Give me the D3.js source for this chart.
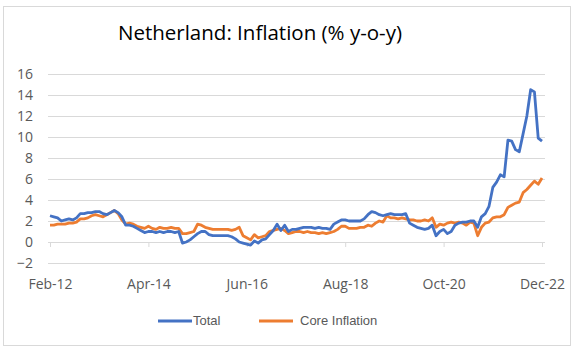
<!DOCTYPE html>
<html>
<head>
<meta charset="utf-8">
<script src="https://cdn.jsdelivr.net/npm/d3@7"></script>
<style>
  body { margin: 0; background: #fff; }
  svg { display: block; }
</style>
</head>
<body>
<div id="chart"></div>
<script>
// monthly values, Feb-12 .. Dec-22
const total = [
  2.5, 2.4, 2.3, 2.0, 2.1, 2.2, 2.1, 2.3, 2.7, 2.7, 2.8,            // 2012
  2.8, 2.9, 2.9, 2.7, 2.6, 2.8, 3.0, 2.8, 2.4, 1.6, 1.6, 1.5,       // 2013
  1.3, 1.1, 0.9, 1.0, 1.0, 0.9, 1.0, 0.9, 1.0, 1.0, 0.9, 1.0,       // 2014
  -0.1, 0.0, 0.2, 0.5, 0.8, 1.0, 1.0, 0.7, 0.6, 0.6, 0.6, 0.6,      // 2015
  0.6, 0.5, 0.3, 0.0, -0.1, -0.2, -0.3, 0.1, -0.1, 0.2, 0.3, 0.7,   // 2016
  1.1, 1.7, 1.1, 1.6, 1.0, 1.2, 1.2, 1.3, 1.4, 1.4, 1.4, 1.3,       // 2017
  1.4, 1.3, 1.3, 1.2, 1.7, 1.9, 2.1, 2.1, 2.0, 2.0, 2.0, 2.0,       // 2018
  2.2, 2.6, 2.9, 2.8, 2.6, 2.5, 2.6, 2.7, 2.6, 2.6, 2.6, 2.7,       // 2019
  1.8, 1.6, 1.4, 1.3, 1.2, 1.3, 1.6, 0.6, 1.0, 1.2, 0.8, 1.0,       // 2020
  1.6, 1.8, 1.9, 1.9, 2.0, 2.0, 1.4, 2.4, 2.7, 3.4, 5.2, 5.7,       // 2021
  6.4, 6.2, 9.7, 9.6, 8.8, 8.6, 10.3, 12.0, 14.5, 14.3, 9.9, 9.6    // 2022
];
const core = [
  1.6, 1.6, 1.7, 1.7, 1.7, 1.8, 1.8, 1.9, 2.2, 2.2, 2.3,
  2.5, 2.6, 2.5, 2.4, 2.6, 2.8, 3.0, 2.7, 2.1, 1.7, 1.8, 1.7,
  1.5, 1.4, 1.3, 1.5, 1.3, 1.2, 1.4, 1.3, 1.3, 1.4, 1.3, 1.3,
  0.8, 0.8, 0.9, 1.0, 1.7, 1.6, 1.4, 1.3, 1.2, 1.2, 1.2, 1.2,
  1.2, 1.1, 1.2, 1.4, 0.6, 0.4, 0.2, 0.7, 0.4, 0.5, 0.6, 1.0,
  1.1, 1.2, 1.3, 1.1, 0.8, 0.9, 1.0, 1.0, 0.9, 1.0, 0.9, 0.9,
  0.8, 0.9, 0.8, 0.9, 1.0, 1.2, 1.5, 1.5, 1.3, 1.3, 1.3, 1.4,
  1.4, 1.6, 1.5, 1.8, 2.0, 1.9, 2.5, 2.3, 2.3, 2.2, 2.3, 2.2,
  2.1, 2.1, 2.0, 2.0, 2.1, 2.0, 2.3, 1.4, 1.7, 1.6, 1.8, 1.9,
  1.8, 1.9, 1.8, 1.6, 1.9, 1.8, 0.6, 1.4, 1.8, 1.9, 2.3, 2.4,
  2.4, 2.6, 3.3, 3.5, 3.7, 3.8, 4.7, 5.0, 5.4, 5.8, 5.5, 6.1
];
const yTicks = [-2, 0, 2, 4, 6, 8, 10, 12, 14, 16];
const xTickLabels = ["Feb-12", "Apr-14", "Jun-16", "Aug-18", "Oct-20", "Dec-22"];
const seriesNames = ["Total", "Core Inflation"];
const colors = ["#4472C4", "#ED7D31"];

const W = 577, H = 352;
const svg = d3.select("#chart").append("svg")
    .attr("width", W)
    .attr("height", H);

// chart frame
svg.append("rect")
    .attr("x", 3.5).attr("y", 6.5)
    .attr("width", 567).attr("height", 339)
    .attr("fill", "#fff")
    .attr("stroke", "#d9d9d9");

// title
svg.append("text")
    .attr("x", 260).attr("y", 40)
    .attr("text-anchor", "middle")
    .attr("font-family", "'Open Sans', sans-serif")
    .attr("font-size", 20.5)
    .attr("fill", "#000")
    .text("Netherland: Inflation (% y-o-y)");

// scales
const x = d3.scaleLinear().domain([0, total.length - 1]).range([50, 542]);
const y = d3.scaleLinear().domain([-2, 16]).range([263, 74]);

// gridlines
svg.append("g")
    .attr("transform", "translate(48,0)")
    .call(d3.axisLeft(y).tickValues(yTicks).tickSize(-497).tickFormat(""))
    .call(g => g.select(".domain").remove())
    .call(g => g.selectAll("line").attr("stroke", "#d9d9d9").attr("stroke-width", 1));

// y labels
svg.append("g")
    .attr("transform", "translate(33,0)")
    .call(d3.axisLeft(y).tickValues(yTicks).tickSize(0).tickPadding(0))
    .call(g => g.select(".domain").remove())
    .call(g => g.selectAll("text")
        .attr("font-family", "'Open Sans', sans-serif")
        .attr("font-size", 14)
        .attr("fill", "#595959"));

// category axis at zero
const tickIdx = xTickLabels.map((d, i) => i * 26);
svg.append("g")
    .attr("transform", `translate(0,${y(0)})`)
    .call(d3.axisBottom(x).tickValues(tickIdx).tickSize(5).tickFormat(""))
    .call(g => g.select(".domain").attr("stroke", "#d9d9d9").attr("d", "M48,0.5H545"))
    .call(g => g.selectAll("line").attr("stroke", "#d9d9d9"));

// x labels along bottom
svg.append("g")
    .attr("transform", "translate(0,279)")
    .call(d3.axisBottom(x).tickValues(tickIdx).tickSize(0).tickPadding(0)
        .tickFormat((d, i) => xTickLabels[i]))
    .call(g => g.select(".domain").remove())
    .call(g => g.selectAll("text")
        .attr("font-family", "'Open Sans', sans-serif")
        .attr("font-size", 14)
        .attr("fill", "#595959"));

// lines
const line = d3.line()
    .x((d, i) => x(i))
    .y(d => y(d));

[core, total].forEach((s, k) => {
    svg.append("path")
        .datum(s)
        .attr("d", line)
        .attr("fill", "none")
        .attr("stroke", colors[1 - k])
        .attr("stroke-width", 2.8)
        .attr("stroke-linejoin", "round");
});

// legend
const legendX = [158, 259];
const legend = svg.append("g").attr("class", "legend");
seriesNames.forEach((name, k) => {
    legend.append("line")
        .attr("x1", legendX[k]).attr("x2", legendX[k] + 34)
        .attr("y1", 321).attr("y2", 321)
        .attr("stroke", colors[k])
        .attr("stroke-width", 3);
    legend.append("text")
        .attr("x", legendX[k] + (k === 0 ? 35 : 41))
        .attr("y", 325)
        .attr("font-family", "'Liberation Sans', Arial, sans-serif")
        .attr("font-size", 13)
        .attr("fill", "#595959")
        .text(name);
});
</script>
</body>
</html>
